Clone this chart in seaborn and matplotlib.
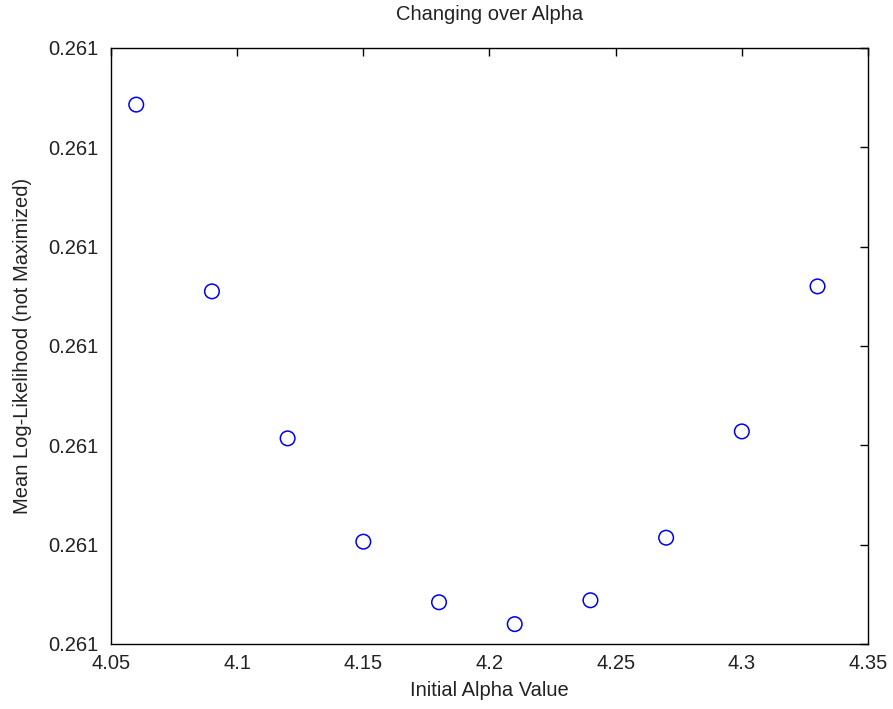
import matplotlib
matplotlib.use("Agg")
import matplotlib.pyplot as plt
import seaborn as sns
import pandas as pd
import numpy as np
from matplotlib.ticker import FormatStrFormatter

# Data
alpha_values = [4.06, 4.09, 4.12, 4.15, 4.18, 4.21, 4.24, 4.27, 4.30, 4.33]
mean_loglik = [0.26100543, 0.26100355, 0.26100207, 0.26100103, 0.26100042,
               0.26100020, 0.26100044, 0.26100107, 0.26100214, 0.26100360]
x_ticks = [4.05, 4.10, 4.15, 4.20, 4.25, 4.30, 4.35]
x_tick_labels = ["4.05", "4.1", "4.15", "4.2", "4.25", "4.3", "4.35"]
y_ticks = [0.261000, 0.261001, 0.261002, 0.261003, 0.261004, 0.261005, 0.261006]

sns.set_style("white")
plt.rcParams['font.family'] = ['Liberation Sans', 'DejaVu Sans']

df = pd.DataFrame({"alpha": alpha_values, "ll": mean_loglik})

fig = plt.figure(figsize=(8.93, 7.09), dpi=100)
ax = fig.add_axes([0.1243, 0.0917, 0.8477, 0.8406])

sns.scatterplot(data=df, x="alpha", y="ll", ax=ax, marker="o", s=110,
                facecolor="none", edgecolor="#0000ee", linewidth=1.1, legend=False)

ax.set_xlim(4.05, 4.35)
ax.set_ylim(y_ticks[0], y_ticks[-1])
ax.set_xticks(x_ticks)
ax.set_xticklabels(x_tick_labels)
ax.set_yticks(y_ticks)
ax.yaxis.set_major_formatter(FormatStrFormatter('%.3f'))

ax.tick_params(direction="in", length=6, width=1.0, color="black",
               top=True, right=True, labelsize=14.5, labelcolor="#222222")
ax.tick_params(axis="x", pad=7)
ax.tick_params(axis="y", pad=9)
for sp in ax.spines.values():
    sp.set_visible(True)
    sp.set_color("black")
    sp.set_linewidth(1.0)

ax.set_xlabel("Initial Alpha Value", fontsize=14.5, color="#222222", labelpad=6)
ax.set_ylabel("Mean Log-Likelihood (not Maximized)", fontsize=14.5, color="#222222", labelpad=12)
ax.set_title("Changing over Alpha", fontsize=14.5, color="#222222", pad=20)

fig.savefig("out.png", dpi=100, facecolor="white")
